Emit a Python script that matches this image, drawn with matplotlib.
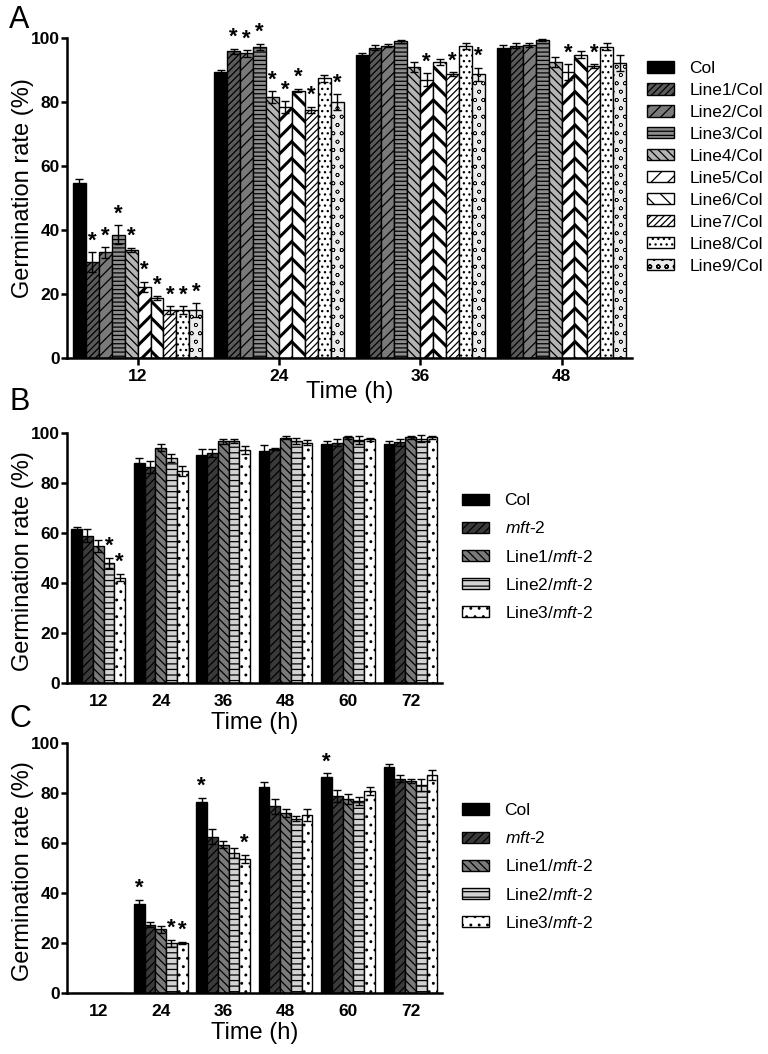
import numpy as np
import matplotlib.pyplot as plt

plt.rcParams['font.family'] = ['Liberation Sans', 'DejaVu Sans']
plt.rcParams['mathtext.fontset'] = 'custom'
plt.rcParams['mathtext.rm'] = 'Liberation Sans'
plt.rcParams['mathtext.it'] = 'Liberation Sans:italic'
plt.rcParams['hatch.linewidth'] = 0.9

# ---- Panel A: overexpression lines in Col background ----
times_a = ['12', '24', '36', '48']
labels_a = ['Col', 'Line1/Col', 'Line2/Col', 'Line3/Col', 'Line4/Col',
            'Line5/Col', 'Line6/Col', 'Line7/Col', 'Line8/Col', 'Line9/Col']
a_12h = [54.8, 30.0, 33.0, 38.5, 33.8, 22.2, 18.7, 15.0, 15.0, 15.0]
a_24h = [89.5, 95.8, 95.2, 97.3, 81.5, 78.5, 83.6, 77.5, 87.4, 80.0]
a_36h = [94.8, 97.0, 97.6, 99.0, 91.0, 87.0, 92.5, 88.7, 97.5, 88.7]
a_48h = [96.9, 97.6, 97.8, 99.4, 92.5, 89.3, 94.8, 91.2, 97.3, 92.3]
a_12h_err = [1.2, 3.0, 1.6, 3.0, 0.7, 1.6, 0.6, 1.2, 1.2, 2.2]
a_24h_err = [0.6, 0.9, 1.0, 0.9, 1.8, 1.8, 0.6, 1.0, 1.0, 2.4]
a_36h_err = [0.6, 0.7, 0.5, 0.5, 1.5, 2.0, 1.0, 0.6, 1.0, 2.0]
a_48h_err = [0.8, 0.7, 0.5, 0.3, 1.5, 2.5, 1.0, 0.6, 1.0, 2.5]
stars_a = [[1, 2, 3, 4, 5, 6, 7, 8, 9], [1, 2, 3, 4, 5, 6, 7, 9], [5, 7, 9], [5, 7]]

# ---- Panels B and C: complementation lines in mft-2 background ----
times_bc = ['12', '24', '36', '48', '60', '72']
labels_bc = ['Col', '$\\mathit{mft}$-$\\mathit{2}$', 'Line1/$\\mathit{mft}$-$\\mathit{2}$',
             'Line2/$\\mathit{mft}$-$\\mathit{2}$', 'Line3/$\\mathit{mft}$-$\\mathit{2}$']
b_vals = [[61.5, 59.0, 55.0, 48.2, 42.2],
          [88.0, 86.5, 94.2, 90.0, 85.0],
          [91.2, 92.0, 96.8, 96.8, 93.2],
          [92.9, 93.6, 98.2, 97.0, 96.2],
          [95.8, 96.2, 98.3, 97.2, 97.5],
          [95.8, 96.3, 98.3, 97.8, 98.3]]
b_errs = [[0.9, 2.5, 2.4, 2.0, 1.5],
          [2.0, 2.3, 1.5, 1.5, 2.0],
          [2.5, 1.5, 1.0, 0.7, 1.5],
          [2.5, 0.5, 0.7, 1.2, 1.0],
          [1.0, 1.4, 0.7, 1.6, 0.5],
          [1.0, 1.5, 0.7, 1.3, 0.5]]
stars_b = [[3, 4], [], [], [], [], []]

c_vals = [[0, 0, 0, 0, 0],
          [35.8, 27.3, 25.5, 20.0, 20.0],
          [76.6, 62.5, 59.3, 56.0, 53.8],
          [82.5, 74.8, 72.0, 69.8, 71.3],
          [86.5, 78.8, 77.5, 77.0, 80.8],
          [90.4, 85.8, 84.8, 83.3, 87.2]]
c_errs = [[0, 0, 0, 0, 0],
          [1.6, 1.0, 1.5, 1.4, 0.5],
          [1.5, 3.0, 1.4, 2.0, 1.6],
          [2.0, 3.0, 1.6, 1.0, 2.4],
          [1.5, 2.5, 2.0, 1.6, 1.6],
          [1.1, 1.3, 0.8, 2.4, 2.0]]
stars_c = [[], [0, 3, 4], [0, 4], [], [0], []]

colors_a = ['black', '#5a5a5a', '#7a7a7a', '#8c8c8c', '#b4b4b4',
            'white', 'white', 'white', 'white', '#ececec']
hatches_a = [None, '/////', '///', '----', '\\\\\\\\', '//', '\\\\', '/////', '...', 'oo']
thick_a = [0.9, 0.9, 0.9, 0.9, 0.9, 2.2, 2.2, 0.9, 0.9, 0.4]

colors_bc = ['black', '#3a3a3a', '#7a7a7a', '#d2d2d2', 'white']
hatches_bc = [None, '////', '\\\\\\\\', '---', '..']
thick_bc = [0.9, 0.9, 0.9, 0.9, 0.9]


def draw_panel(ax, groups, vals, errs, stars, labels, colors, hatches, hlw, width):
    vals = np.array(vals, dtype=float)
    errs = np.array(errs, dtype=float)
    n = vals.shape[1]
    x = np.arange(len(groups))
    handles = []
    for j in range(n):
        pos = x + (j - (n - 1) / 2) * width
        bars = ax.bar(pos, vals[:, j], width, color=colors[j], edgecolor='black',
                      hatch=hatches[j], linewidth=1.0, label=labels[j], zorder=2)
        for b in bars:
            if hasattr(b, 'set_hatch_linewidth'):
                b.set_hatch_linewidth(hlw[j])
        handles.append(bars)
        ok = errs[:, j] > 0
        ax.errorbar(pos[ok], vals[ok, j], yerr=errs[ok, j], fmt='none', ecolor='black',
                    elinewidth=1.0, capsize=3, capthick=1.0, zorder=3)
        for g in range(len(groups)):
            if j in stars[g]:
                ax.annotate('*', xy=(pos[g], vals[g, j] + errs[g, j]), xytext=(0, 0.5),
                            textcoords='offset points', ha='center', va='bottom',
                            fontsize=16, fontweight='bold', zorder=4)
    ax.set_xticks(x)
    ax.set_xticklabels(groups)
    ax.set_xlim(-0.5, len(groups) - 0.5)
    ax.set_ylim(0, 100)
    ax.set_yticks([0, 20, 40, 60, 80, 100])
    for s in ['top', 'right']:
        ax.spines[s].set_visible(False)
    for s in ['left', 'bottom']:
        ax.spines[s].set_linewidth(1.8)
    ax.tick_params(axis='y', width=1.8, length=4, pad=1, labelsize=12.5)
    plt.setp(ax.get_xticklabels() + ax.get_yticklabels(), fontweight='bold')
    ax.set_ylabel('Germination rate (%)', fontsize=17)
    ax.set_xlabel('Time (h)', fontsize=17, va='top')
    return handles


fig = plt.figure(figsize=(7.68, 10.54), dpi=100)

ax_a = fig.add_axes([0.0872, 0.6603, 0.736, 0.3036])
ax_b = fig.add_axes([0.0872, 0.352, 0.488, 0.237])
ax_c = fig.add_axes([0.0872, 0.0579, 0.488, 0.237])

h_a = draw_panel(ax_a, times_a, [a_12h, a_24h, a_36h, a_48h],
                 [a_12h_err, a_24h_err, a_36h_err, a_48h_err], stars_a,
                 labels_a, colors_a, hatches_a, thick_a, 0.0915)
h_b = draw_panel(ax_b, times_bc, b_vals, b_errs, stars_b,
                 labels_bc, colors_bc, hatches_bc, thick_bc, 0.172)
h_c = draw_panel(ax_c, times_bc, c_vals, c_errs, stars_c,
                 labels_bc, colors_bc, hatches_bc, thick_bc, 0.172)

ax_a.tick_params(axis='x', width=1.8, length=5, pad=3, labelsize=12.5)
ax_b.tick_params(axis='x', length=0, pad=8, labelsize=12.5)
ax_c.tick_params(axis='x', length=0, pad=8, labelsize=12.5)

ax_a.yaxis.set_label_coords(-0.058, 0.53)
ax_b.yaxis.set_label_coords(-0.088, 0.49)
ax_c.yaxis.set_label_coords(-0.088, 0.49)
ax_a.xaxis.set_label_coords(0.5, -0.072)
ax_b.xaxis.set_label_coords(0.5, -0.118)
ax_c.xaxis.set_label_coords(0.5, -0.118)

leg_kw = dict(frameon=False, fontsize=12.5, handlelength=1.55, handleheight=0.62,
              handletextpad=0.9, borderpad=0, borderaxespad=0, loc='upper left')
fig.legend(h_a, labels_a, bbox_to_anchor=(0.842, 0.942), labelspacing=0.4, **leg_kw)
fig.legend(h_b, labels_bc, bbox_to_anchor=(0.6016, 0.532), labelspacing=0.7, **leg_kw)
fig.legend(h_c, labels_bc, bbox_to_anchor=(0.6016, 0.238), labelspacing=0.7, **leg_kw)

fig.text(0.012, 0.995, 'A', fontsize=22, va='top')
fig.text(0.012, 0.633, 'B', fontsize=22, va='top')
fig.text(0.012, 0.332, 'C', fontsize=22, va='top')

fig.savefig('out.png', dpi=100)
